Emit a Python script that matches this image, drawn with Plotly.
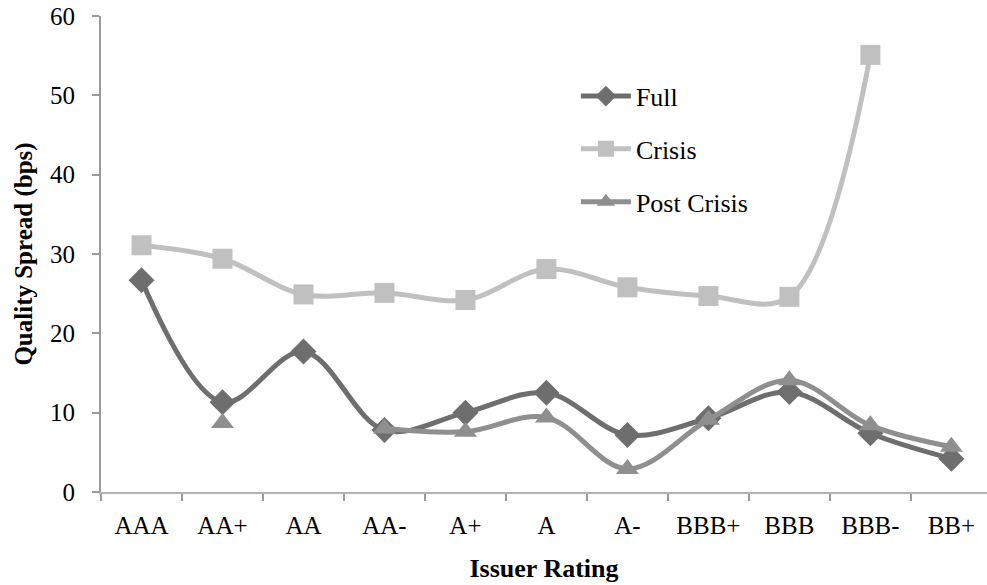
import plotly.graph_objects as go

ratings = ["AAA", "AA+", "AA", "AA-", "A+", "A", "A-", "BBB+", "BBB", "BBB-", "BB+"]
full = [26.7, 11.3, 17.7, 7.8, 10.0, 12.5, 7.2, 9.3, 12.6, 7.4, 4.2]
crisis = [31.1, 29.4, 24.9, 25.1, 24.2, 28.1, 25.8, 24.7, 24.6, 55.1, None]
post_crisis = [None, 8.7, None, 8.0, 7.6, 9.4, 2.9, 9.1, 14.1, 8.4, 5.7]

FONT = "Liberation Serif"
fig = go.Figure()
fig.add_trace(go.Scatter(
    x=ratings, y=full, name="Full", legendgroup="a", mode="lines+markers",
    line=dict(color="#6e6e6e", width=5, shape="spline", smoothing=1),
    marker=dict(symbol="diamond", size=20, color="#6e6e6e")))
fig.add_trace(go.Scatter(
    x=ratings, y=crisis, name="Crisis", legendgroup="b", mode="lines+markers",
    line=dict(color="#c0c0c0", width=5, shape="spline", smoothing=1),
    marker=dict(symbol="square", size=20, color="#c0c0c0")))
fig.add_trace(go.Scatter(
    x=ratings, y=post_crisis, name="Post Crisis", legendgroup="c", mode="lines+markers",
    line=dict(color="#8f8f8f", width=5, shape="spline", smoothing=1),
    marker=dict(symbol="triangle-up", size=20, color="#8f8f8f")))

fig.update_layout(
    width=987, height=585,
    margin=dict(l=101, r=0, t=16, b=93),
    paper_bgcolor="white", plot_bgcolor="white",
    font=dict(family=FONT, size=25, color="black"),
    showlegend=True,
    legend=dict(x=0.536, y=0.881, xanchor="left", yanchor="top",
                bgcolor="rgba(0,0,0,0)", itemwidth=50,
                traceorder="grouped", tracegroupgap=16,
                font=dict(family=FONT, size=26)),
    xaxis=dict(
        type="category", range=[-0.5, 10.44], automargin=False,
        showline=True, linecolor="#b3b3b3", linewidth=2,
        ticks="outside", tickson="boundaries", ticklen=7, tickcolor="#9a9a9a", tickwidth=2,
        ticklabelstandoff=10,
        showgrid=False, zeroline=False,
        tickfont=dict(family=FONT, size=25),
        title=dict(text="<b>Issuer Rating</b>", font=dict(family=FONT, size=26), standoff=21)),
    yaxis=dict(
        range=[0, 60], dtick=10, automargin=False,
        showline=True, linecolor="#9a9a9a", linewidth=2,
        ticks="outside", ticklen=7, tickcolor="#9a9a9a", tickwidth=2,
        ticklabelstandoff=12,
        showgrid=False, zeroline=False,
        tickfont=dict(family=FONT, size=25),
        title=dict(text="<b>Quality Spread (bps)</b>", font=dict(family=FONT, size=25), standoff=10)),
)

fig.write_html("out.html", config={"displayModeBar": False},
               post_script="document.body.style.margin='0';")
